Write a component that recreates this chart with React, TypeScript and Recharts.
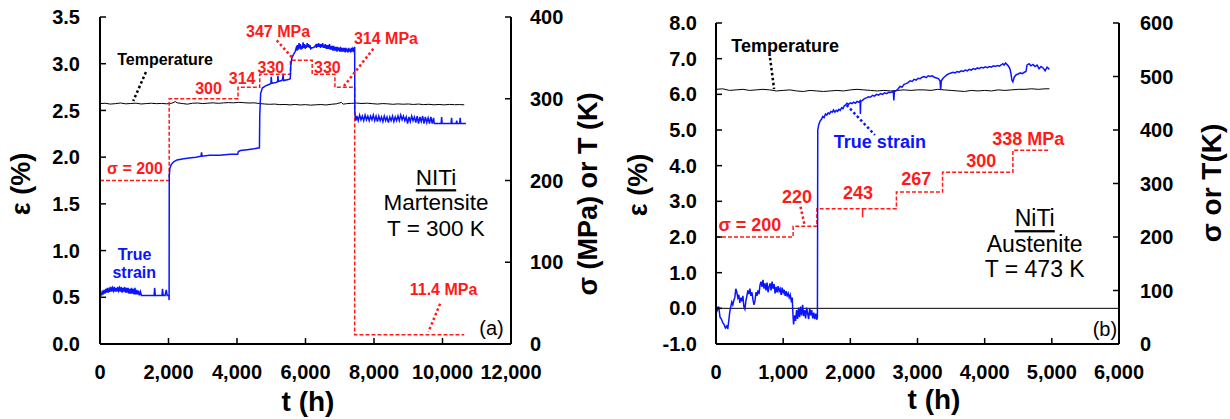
import React from 'react';
import { LineChart, Line, XAxis, YAxis, ReferenceLine, ReferenceDot } from 'recharts';

const FONT = '"Liberation Sans", Arial, Helvetica, sans-serif';
const BLUE = '#0a14ff';
const RED = '#ff1a1a';

// ---------- panel (a): NiTi martensite, T = 300 K ----------
const xTicksA = [0, 2000, 4000, 6000, 8000, 10000, 12000];
const epsTicksA = [0, 0.5, 1, 1.5, 2, 2.5, 3, 3.5];
const sigTicksA = [0, 100, 200, 300, 400];

// true strain (%) vs time (h)
const strainA: [number, number][] = [
  [0, 0], [5, 0.47], [20, 0.55], [45, 0.52], [70, 0.57], [95, 0.53], [120, 0.58], [145, 0.54],
  [170, 0.59], [195, 0.55], [220, 0.6], [245, 0.55], [270, 0.59], [295, 0.56], [320, 0.61],
  [345, 0.56], [370, 0.6], [395, 0.57], [420, 0.61], [445, 0.56], [470, 0.6], [495, 0.56],
  [520, 0.61], [545, 0.57], [570, 0.6], [595, 0.56], [620, 0.61], [645, 0.55], [670, 0.6],
  [695, 0.56], [720, 0.61], [745, 0.55], [770, 0.6], [795, 0.55], [820, 0.6], [845, 0.54],
  [870, 0.59], [895, 0.54], [920, 0.6], [945, 0.54], [970, 0.59], [995, 0.53], [1020, 0.6],
  [1045, 0.53], [1070, 0.58], [1095, 0.53], [1120, 0.57], [1150, 0.52], [1180, 0.56],
  [1210, 0.52], [1300, 0.52], [1450, 0.52], [1580, 0.52], [1595, 0.6], [1615, 0.52],
  [1700, 0.52], [1810, 0.52], [1825, 0.59], [1845, 0.52], [1900, 0.52], [1935, 0.58],
  [1960, 0.52], [2010, 0.52], [2018, 0.47], [2022, 1.8], [2040, 1.88], [2080, 1.92],
  [2150, 1.95], [2250, 1.97], [2400, 1.98], [2600, 1.99], [2800, 2.0], [2950, 2.01],
  [2965, 2.05], [2980, 2.01], [3200, 2.02], [3500, 2.02], [3800, 2.03], [4020, 2.03],
  [4040, 2.06], [4100, 2.07], [4300, 2.08], [4500, 2.09], [4655, 2.1], [4665, 2.45],
  [4690, 2.68], [4740, 2.74], [4820, 2.76], [4950, 2.78], [4990, 2.79], [5000, 2.86],
  [5015, 2.79], [5150, 2.8], [5185, 2.81], [5195, 2.87], [5210, 2.81], [5300, 2.82],
  [5330, 2.83], [5345, 2.88], [5360, 2.82], [5500, 2.83], [5555, 2.84], [5570, 2.98],
  [5600, 3.06], [5650, 3.1], [5700, 3.13], [5730, 3.17], [5750, 3.14], [5770, 3.2],
  [5790, 3.15], [5810, 3.22], [5830, 3.16], [5850, 3.21], [5870, 3.15], [5890, 3.19],
  [5910, 3.16], [5930, 3.23], [5950, 3.17], [5970, 3.21], [5990, 3.16], [6010, 3.2],
  [6030, 3.17], [6050, 3.22], [6070, 3.18], [6090, 3.21], [6110, 3.17], [6130, 3.2],
  [6150, 3.16], [6180, 3.17], [6220, 3.17], [6260, 3.18], [6300, 3.2], [6320, 3.17],
  [6340, 3.21], [6360, 3.18], [6380, 3.22], [6400, 3.18], [6420, 3.21], [6440, 3.17],
  [6460, 3.21], [6480, 3.18], [6500, 3.22], [6520, 3.17], [6540, 3.2], [6560, 3.17],
  [6580, 3.21], [6600, 3.16], [6620, 3.2], [6640, 3.16], [6660, 3.2], [6680, 3.16],
  [6700, 3.21], [6720, 3.15], [6740, 3.19], [6760, 3.15], [6780, 3.19], [6800, 3.14],
  [6820, 3.19], [6840, 3.14], [6860, 3.18], [6880, 3.14], [6900, 3.18], [6920, 3.13],
  [6940, 3.18], [6960, 3.14], [6980, 3.17], [7000, 3.13], [7020, 3.18], [7040, 3.13],
  [7060, 3.17], [7080, 3.13], [7100, 3.17], [7120, 3.13], [7140, 3.17], [7160, 3.12],
  [7180, 3.17], [7200, 3.13], [7220, 3.16], [7240, 3.12], [7260, 3.17], [7280, 3.13],
  [7300, 3.16], [7320, 3.12], [7340, 3.17], [7360, 3.13], [7380, 3.16], [7400, 3.14],
  [7425, 3.17], [7436, 3.18], [7440, 2.5], [7450, 2.44], [7470, 2.39], [7500, 2.44],
  [7540, 2.39], [7580, 2.45], [7620, 2.4], [7660, 2.44], [7700, 2.39], [7740, 2.45],
  [7780, 2.4], [7820, 2.44], [7860, 2.39], [7900, 2.44], [7940, 2.4], [7980, 2.45],
  [8020, 2.39], [8060, 2.44], [8100, 2.38], [8140, 2.44], [8180, 2.39], [8220, 2.43],
  [8260, 2.38], [8300, 2.44], [8340, 2.39], [8380, 2.43], [8420, 2.37], [8460, 2.43],
  [8500, 2.39], [8540, 2.44], [8580, 2.38], [8620, 2.43], [8660, 2.39], [8700, 2.44],
  [8740, 2.39], [8780, 2.45], [8820, 2.4], [8860, 2.44], [8900, 2.39], [8940, 2.43],
  [8980, 2.36], [9020, 2.43], [9060, 2.38], [9100, 2.44], [9140, 2.39], [9180, 2.43],
  [9220, 2.37], [9260, 2.44], [9300, 2.36], [9340, 2.43], [9380, 2.38], [9420, 2.44],
  [9460, 2.36], [9500, 2.43], [9540, 2.37], [9580, 2.42], [9620, 2.36], [9660, 2.43],
  [9700, 2.36], [9740, 2.42], [9760, 2.36], [9960, 2.36], [9975, 2.43], [9990, 2.36],
  [10250, 2.36], [10265, 2.42], [10280, 2.36], [10400, 2.36], [10415, 2.39], [10430, 2.36],
  [10500, 2.36], [10515, 2.42], [10530, 2.36], [10684, 2.36],
];

// applied stress (MPa), stepwise
const stressA: [number, number][] = [
  [0, 200], [2020, 300], [4030, 314], [4663, 330], [5561, 347], [6195, 330], [6859, 314],
  [7436, 11.4], [10635, 11.4],
];

// temperature (K)
const tempA: [number, number][] = [
  [0, 294], [150, 294.5], [300, 293.5], [450, 294], [600, 294.8], [750, 293.8], [900, 294.2],
  [1050, 294.6], [1200, 293.6], [1350, 294.1], [1500, 294.5], [1650, 294], [1800, 294.3],
  [1950, 293.8], [2100, 294.6], [2200, 296.5], [2250, 295], [2400, 294.2], [2550, 293.4],
  [2700, 294.5], [2850, 294.8], [3000, 294.1], [3150, 294.6], [3300, 295], [3450, 294.4],
  [3600, 294.9], [3750, 295.3], [3900, 295], [4050, 295.6], [4200, 295.2], [4350, 294.8],
  [4500, 295], [4650, 294.2], [4800, 293.6], [4950, 293.2], [5100, 293.5], [5250, 292.8],
  [5400, 293], [5550, 292.5], [5700, 293], [5850, 292.4], [6000, 292.8], [6150, 292.2],
  [6300, 292.6], [6450, 292.9], [6600, 292.4], [6750, 293.2], [6900, 293.8], [7050, 295.5],
  [7100, 293.4], [7200, 294], [7350, 294.4], [7500, 294.7], [7650, 294.2], [7800, 294.6],
  [7950, 294], [8100, 293.5], [8250, 294.1], [8400, 293.8], [8550, 293.2], [8700, 293.7],
  [8850, 293.3], [9000, 293.6], [9150, 293], [9300, 293.5], [9450, 292.8], [9600, 293.2],
  [9750, 292.6], [9900, 293], [10050, 292.5], [10200, 293.1], [10350, 292.7], [10500, 292.9],
  [10635, 292.6],
];

// ---------- panel (b): NiTi austenite, T = 473 K ----------
const xTicksB = [0, 1000, 2000, 3000, 4000, 5000, 6000];
const epsTicksB = [-1, 0, 1, 2, 3, 4, 5, 6, 7, 8];
const sigTicksB = [0, 100, 200, 300, 400, 500, 600];

const strainB: [number, number][] = [
  [0, 0.12], [20, -0.05], [40, 0.05], [60, -0.25], [80, -0.3], [100, -0.4], [120, -0.45],
  [140, -0.55], [160, -0.5], [175, -0.58], [190, -0.35], [205, -0.1], [220, 0.05], [235, 0.18],
  [250, 0.1], [265, 0.22], [280, 0.3], [295, 0.55], [310, 0.45], [325, 0.3], [340, 0.38],
  [355, 0.15], [370, 0.3], [385, 0.2], [400, 0.35], [415, 0.05], [430, -0.02], [445, 0.2],
  [460, 0.35], [475, 0.5], [490, 0.4], [505, 0.55], [520, 0.35], [535, 0.45], [550, 0.25],
  [565, 0.1], [580, 0.2], [595, 0.45], [610, 0.35], [625, 0.5], [640, 0.4], [655, 0.65],
  [670, 0.75], [685, 0.6], [700, 0.8], [715, 0.55], [730, 0.7], [745, 0.5], [760, 0.72],
  [775, 0.45], [790, 0.6], [805, 0.7], [820, 0.5], [835, 0.75], [850, 0.55], [865, 0.68],
  [880, 0.42], [895, 0.6], [910, 0.45], [925, 0.62], [940, 0.48], [955, 0.55], [970, 0.38],
  [985, 0.58], [1000, 0.44], [1015, 0.52], [1030, 0.35], [1045, 0.48], [1060, 0.33],
  [1075, 0.42], [1090, 0.3], [1105, 0.38], [1120, 0.22], [1135, 0.3], [1145, -0.15],
  [1155, -0.45], [1170, -0.2], [1185, -0.35], [1200, -0.05], [1215, -0.3], [1230, 0.02],
  [1245, -0.25], [1260, 0.05], [1275, -0.2], [1290, 0.1], [1305, -0.22], [1320, -0.05],
  [1335, -0.28], [1350, 0.02], [1365, -0.15], [1380, -0.3], [1395, 0.0], [1410, -0.2],
  [1425, -0.05], [1440, -0.28], [1455, -0.12], [1470, -0.3], [1485, -0.15], [1500, -0.32],
  [1510, -0.25], [1515, 5.0], [1530, 5.15], [1550, 5.25], [1570, 5.3], [1590, 5.38],
  [1610, 5.35], [1630, 5.45], [1650, 5.42], [1670, 5.48], [1690, 5.45], [1710, 5.52],
  [1730, 5.5], [1750, 5.56], [1770, 5.5], [1790, 5.55], [1810, 5.52], [1830, 5.58],
  [1850, 5.55], [1870, 5.62], [1890, 5.6], [1910, 5.68], [1930, 5.7], [1950, 5.75],
  [1975, 5.72], [2000, 5.76], [2025, 5.74], [2050, 5.78], [2075, 5.75], [2100, 5.8],
  [2125, 5.78], [2145, 5.82], [2150, 5.45], [2155, 5.8], [2180, 5.83], [2210, 5.88],
  [2240, 5.9], [2270, 5.93], [2300, 5.92], [2330, 5.97], [2360, 5.95], [2390, 6.0],
  [2420, 5.98], [2450, 6.02], [2480, 6.0], [2510, 6.04], [2540, 6.02], [2570, 6.06],
  [2600, 6.05], [2640, 6.08], [2648, 5.83], [2656, 6.08], [2680, 6.1], [2710, 6.15],
  [2740, 6.22], [2770, 6.2], [2800, 6.28], [2830, 6.3], [2860, 6.33], [2890, 6.38],
  [2920, 6.36], [2950, 6.42], [2980, 6.4], [3010, 6.45], [3040, 6.44], [3070, 6.48],
  [3100, 6.5], [3130, 6.47], [3160, 6.52], [3190, 6.5], [3220, 6.52], [3250, 6.48],
  [3280, 6.46], [3310, 6.44], [3335, 6.38], [3345, 6.12], [3355, 6.38], [3380, 6.45],
  [3410, 6.5], [3440, 6.55], [3470, 6.58], [3500, 6.6], [3530, 6.62], [3560, 6.6],
  [3590, 6.64], [3620, 6.62], [3650, 6.66], [3680, 6.64], [3710, 6.68], [3740, 6.66],
  [3770, 6.7], [3800, 6.68], [3830, 6.72], [3860, 6.7], [3890, 6.74], [3920, 6.72],
  [3950, 6.76], [3980, 6.74], [4010, 6.77], [4040, 6.75], [4070, 6.78], [4100, 6.76],
  [4130, 6.8], [4160, 6.78], [4190, 6.81], [4220, 6.79], [4250, 6.83], [4270, 6.86],
  [4290, 6.82], [4310, 6.88], [4330, 6.84], [4350, 6.8], [4375, 6.72], [4390, 6.6],
  [4405, 6.4], [4420, 6.35], [4440, 6.48], [4470, 6.55], [4500, 6.57], [4530, 6.6],
  [4560, 6.58], [4590, 6.62], [4615, 6.64], [4630, 6.82], [4660, 6.86], [4690, 6.8],
  [4720, 6.84], [4750, 6.78], [4780, 6.82], [4810, 6.72], [4840, 6.78], [4870, 6.74],
  [4900, 6.66], [4930, 6.76], [4964, 6.7],
];

const stressB: [number, number][] = [
  [0, 200], [1148, 220], [1503, 253], [2183, 253], [2183, 237], [2183, 253], [2686, 284],
  [3373, 321], [4420, 362], [4964, 362],
];

const tempB: [number, number][] = [
  [0, 476], [100, 477], [200, 474], [300, 475], [400, 476], [500, 474], [600, 475], [700, 476],
  [800, 475], [900, 473], [1000, 474], [1100, 475], [1200, 473], [1300, 472], [1400, 474],
  [1500, 473], [1600, 472], [1700, 473], [1800, 474], [1900, 473], [2000, 475], [2100, 476],
  [2200, 475], [2300, 474], [2400, 473], [2500, 474], [2600, 473], [2700, 474], [2800, 475],
  [2900, 474], [3000, 475], [3100, 475], [3200, 474], [3300, 476], [3400, 475], [3500, 474],
  [3600, 473], [3700, 472], [3800, 474], [3900, 473], [4000, 474], [4100, 473], [4200, 475],
  [4300, 474], [4400, 475], [4500, 476], [4600, 476], [4700, 477], [4800, 476], [4900, 477],
  [4964, 477],
];

const toRows = (pts: [number, number][]) => pts.map(([t, v]) => ({ t, v }));

// ---------- annotations (placed in t / strain coordinates) ----------
type Note = { t: number; e: number; text: string; color: string; size: number; bold?: boolean; underline?: boolean };
type Leader = { a: [number, number]; b: [number, number]; color: string };

const notesA: Note[] = [
  { t: 1900, e: 3.05, text: 'Temperature', color: '#000', size: 16, bold: true },
  { t: 5200, e: 3.34, text: '347 MPa', color: RED, size: 16, bold: true },
  { t: 8350, e: 3.27, text: '314 MPa', color: RED, size: 16, bold: true },
  { t: 3170, e: 2.73, text: '300', color: RED, size: 16, bold: true },
  { t: 4150, e: 2.84, text: '314', color: RED, size: 16, bold: true },
  { t: 4990, e: 2.96, text: '330', color: RED, size: 16, bold: true },
  { t: 6640, e: 2.96, text: '330', color: RED, size: 16, bold: true },
  { t: 1020, e: 1.88, text: 'σ = 200', color: RED, size: 16, bold: true },
  { t: 1010, e: 0.96, text: 'True', color: BLUE, size: 16, bold: true },
  { t: 1000, e: 0.76, text: 'strain', color: BLUE, size: 16, bold: true },
  { t: 9810, e: 1.78, text: 'NITi', color: '#000', size: 22.5, underline: true },
  { t: 9810, e: 1.51, text: 'Martensite', color: '#000', size: 22.5 },
  { t: 9810, e: 1.24, text: 'T = 300 K', color: '#000', size: 22.5 },
  { t: 10030, e: 0.58, text: '11.4 MPa', color: RED, size: 16, bold: true },
  { t: 11430, e: 0.17, text: '(a)', color: '#000', size: 20 },
];

const leadersA: Leader[] = [
  { a: [1340, 2.91], b: [970, 2.6], color: '#000' },
  { a: [5160, 3.25], b: [5600, 3.07], color: RED },
  { a: [7980, 3.16], b: [7100, 2.75], color: RED },
  { a: [9930, 0.43], b: [9590, 0.13], color: RED },
];

const notesB: Note[] = [
  { t: 1030, e: 7.36, text: 'Temperature', color: '#000', size: 18, bold: true },
  { t: 2440, e: 4.66, text: 'True strain', color: BLUE, size: 18, bold: true },
  { t: 4650, e: 4.75, text: '338 MPa', color: RED, size: 18, bold: true },
  { t: 3950, e: 4.13, text: '300', color: RED, size: 18, bold: true },
  { t: 2980, e: 3.63, text: '267', color: RED, size: 18, bold: true },
  { t: 2115, e: 3.23, text: '243', color: RED, size: 18, bold: true },
  { t: 1205, e: 3.12, text: '220', color: RED, size: 18, bold: true },
  { t: 505, e: 2.34, text: 'σ = 200', color: RED, size: 18, bold: true },
  { t: 4745, e: 2.53, text: 'NiTi', color: '#000', size: 23, underline: true },
  { t: 4745, e: 1.8, text: 'Austenite', color: '#000', size: 23 },
  { t: 4745, e: 1.1, text: 'T = 473 K', color: '#000', size: 23 },
  { t: 5790, e: -0.58, text: '(b)', color: '#000', size: 20 },
];

const leadersB: Leader[] = [
  { a: [805, 7.02], b: [865, 6.15], color: '#000' },
  { a: [1945, 5.7], b: [2365, 4.86], color: BLUE },
  { a: [1258, 2.85], b: [1316, 2.36], color: RED },
];

const renderNotes = (notes: Note[]) =>
  notes.map((n, i) => (
    <ReferenceDot
      key={`note-${i}`}
      xAxisId="t"
      yAxisId="eps"
      x={n.t}
      y={n.e}
      r={0}
      ifOverflow="visible"
      shape={(p: any) => (
        <text
          x={p.cx}
          y={p.cy}
          textAnchor="middle"
          dominantBaseline="central"
          fill={n.color}
          fontSize={n.size}
          fontWeight={n.bold ? 700 : 400}
          fontFamily={FONT}
          style={n.underline ? { textDecoration: 'underline' } : undefined}
        >
          {n.text}
        </text>
      )}
    />
  ));

const renderLeaders = (leaders: Leader[]) =>
  leaders.map((l, i) => (
    <ReferenceLine
      key={`lead-${i}`}
      xAxisId="t"
      yAxisId="eps"
      segment={[{ x: l.a[0], y: l.a[1] }, { x: l.b[0], y: l.b[1] }]}
      stroke={l.color}
      strokeWidth={2.5}
      strokeDasharray="2.5 2.5"
      ifOverflow="visible"
    />
  ));

const tickFont = { fill: '#000', fontSize: 20, fontWeight: 700, fontFamily: FONT };
const axisLine = { stroke: '#000', strokeWidth: 2 };
const tickLine = { stroke: '#000', strokeWidth: 1.5 };
const fmtThousands = (v: number) => v.toLocaleString('en-US');

const AxisTitle = ({ text, x, y, rotate = 0, size = 27 }: { text: string; x: number; y: number; rotate?: number; size?: number }) => (
  <div
    style={{
      position: 'absolute',
      left: x,
      top: y,
      transform: `translate(-50%, -50%) rotate(${rotate}deg)`,
      whiteSpace: 'nowrap',
      fontFamily: FONT,
      fontWeight: 700,
      fontSize: size,
      lineHeight: 1,
      color: '#000',
    }}
  >
    {text}
  </div>
);

function PanelA() {
  return (
    <LineChart width={615} height={419} margin={{ top: 17, right: 0, bottom: 0, left: 0 }}>
      <XAxis
        xAxisId="t" type="number" dataKey="t" domain={[0, 12000]} ticks={xTicksA} allowDataOverflow
        interval={0} height={75} tickFormatter={fmtThousands} tick={tickFont}
        tickSize={-6} tickMargin={27} axisLine={axisLine} tickLine={tickLine}
      />
      <XAxis
        xAxisId="top" orientation="top" type="number" dataKey="t" domain={[0, 12000]} ticks={xTicksA}
        allowDataOverflow interval={0} height={0} tick={false} tickSize={-6} axisLine={axisLine} tickLine={tickLine}
      />
      <YAxis
        yAxisId="eps" type="number" domain={[0, 3.5]} ticks={epsTicksA} allowDataOverflow interval={0}
        width={100} tickFormatter={(v: number) => v.toFixed(1)} tick={tickFont}
        tickSize={-6} tickMargin={26} axisLine={axisLine} tickLine={tickLine}
      />
      <YAxis
        yAxisId="sig" orientation="right" type="number" domain={[0, 400]} ticks={sigTicksA} allowDataOverflow
        interval={0} width={104} tick={tickFont} tickSize={-6} tickMargin={25} axisLine={axisLine} tickLine={tickLine}
      />
      <Line xAxisId="t" yAxisId="sig" data={toRows(tempA)} dataKey="v" stroke="#000" strokeWidth={1} dot={false} isAnimationActive={false} />
      <Line xAxisId="t" yAxisId="sig" data={toRows(stressA)} dataKey="v" type="stepAfter" stroke={RED} strokeWidth={1.5} strokeDasharray="4 2" dot={false} isAnimationActive={false} />
      <Line xAxisId="t" yAxisId="eps" data={toRows(strainA)} dataKey="v" stroke={BLUE} strokeWidth={1.5} dot={false} isAnimationActive={false} />
      {renderLeaders(leadersA)}
      {renderNotes(notesA)}
    </LineChart>
  );
}

function PanelB() {
  return (
    <LineChart width={615} height={419} margin={{ top: 23, right: 0, bottom: 0, left: 0 }}>
      <XAxis
        xAxisId="t" type="number" dataKey="t" domain={[0, 6000]} ticks={xTicksB} allowDataOverflow
        interval={0} height={75} tickFormatter={fmtThousands} tick={tickFont}
        tickSize={-6} tickMargin={27} axisLine={axisLine} tickLine={tickLine}
      />
      <XAxis
        xAxisId="top" orientation="top" type="number" dataKey="t" domain={[0, 6000]} ticks={xTicksB}
        allowDataOverflow interval={0} height={0} tick={false} tickSize={-6} axisLine={axisLine} tickLine={tickLine}
      />
      <YAxis
        yAxisId="eps" type="number" domain={[-1, 8]} ticks={epsTicksB} allowDataOverflow interval={0}
        width={101} tickFormatter={(v: number) => v.toFixed(1)} tick={tickFont}
        tickSize={-6} tickMargin={25} axisLine={axisLine} tickLine={tickLine}
      />
      <YAxis
        yAxisId="sig" orientation="right" type="number" domain={[0, 600]} ticks={sigTicksB} allowDataOverflow
        interval={0} width={111} tick={tickFont} tickSize={-6} tickMargin={27} axisLine={axisLine} tickLine={tickLine}
      />
      <ReferenceLine xAxisId="t" yAxisId="eps" y={0} stroke="#000" strokeWidth={1} />
      <Line xAxisId="t" yAxisId="sig" data={toRows(tempB)} dataKey="v" stroke="#000" strokeWidth={1} dot={false} isAnimationActive={false} />
      <Line xAxisId="t" yAxisId="sig" data={toRows(stressB)} dataKey="v" type="stepAfter" stroke={RED} strokeWidth={1.5} strokeDasharray="4 2" dot={false} isAnimationActive={false} />
      <Line xAxisId="t" yAxisId="eps" data={toRows(strainB)} dataKey="v" stroke={BLUE} strokeWidth={1.5} dot={false} isAnimationActive={false} />
      {renderLeaders(leadersB)}
      {renderNotes(notesB)}
    </LineChart>
  );
}

export default function App() {
  return (
    <div style={{ position: 'absolute', left: 0, top: 0, width: 1230, height: 419, background: '#fff', overflow: 'hidden' }}>
      <div style={{ position: 'absolute', left: 0, top: 0 }}>
        <PanelA />
      </div>
      <div style={{ position: 'absolute', left: 615, top: 0 }}>
        <PanelB />
      </div>
      <AxisTitle text="ε (%)" x={21} y={184} rotate={-90} />
      <AxisTitle text="σ (MPa) or T (K)" x={588} y={194} rotate={-90} />
      <AxisTitle text="t (h)" x={308} y={402} size={28} />
      <AxisTitle text="ε (%)" x={638} y={185} rotate={-90} />
      <AxisTitle text="σ or T(K)" x={1212} y={183} rotate={-90} size={28} />
      <AxisTitle text="t (h)" x={934} y={400} size={28} />
    </div>
  );
}
